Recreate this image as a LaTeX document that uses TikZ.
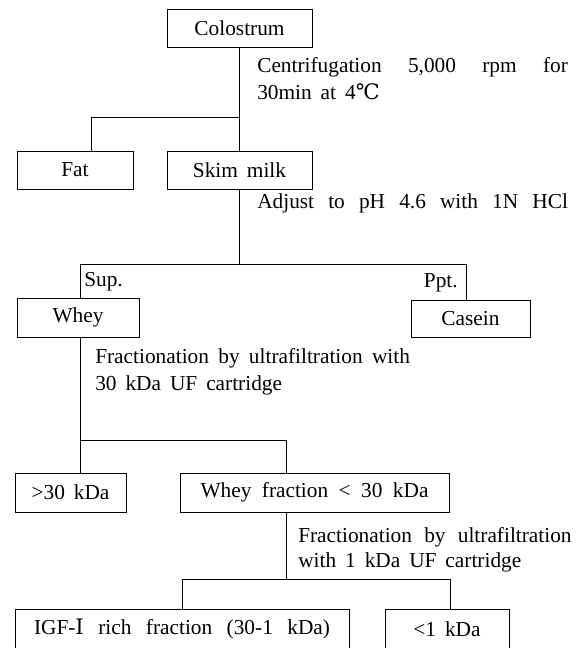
\documentclass[tikz,border=0pt]{standalone}
\usepackage{fontspec}
\setmainfont{Liberation Serif}
\newfontfamily\symfont{DejaVu Serif}
\newcommand\widesp{\spaceskip=0.42em plus 1em minus 0.25em\relax}
\begin{document}
\begin{tikzpicture}[x=0.75pt,y=-0.75pt,
  every node/.style={font=\fontsize{16pt}{19pt}\selectfont, execute at begin node=\widesp},
  box/.style={draw, line width=0.6pt, minimum height=28.5pt, inner sep=0pt},
  lbl/.style={inner sep=0pt, anchor=west},
  conn/.style={line width=0.6pt}]
\useasboundingbox (0,0) rectangle (579,648);
% boxes
\node[box, minimum width=108.75pt] (colo) at (239.5,28) {Colostrum};
\node[box, minimum width=87pt] (fat) at (75,170) {Fat};
\node[box, minimum width=108.75pt] (skim) at (239.5,170) {Skim milk};
\node[box, minimum width=91.5pt, minimum height=29.25pt] (whey) at (78,317.5) {Whey};
\node[box, minimum width=89.25pt, minimum height=27.75pt] (casein) at (470.5,318.5) {Casein};
\node[box, minimum width=83.25pt, minimum height=29.25pt] (gt) at (70.5,492.5) {>30 kDa};
\node[box, minimum width=201.75pt, minimum height=29.25pt] (wfrac) at (314.5,492.5) {\makebox[171pt][s]{Whey fraction < 30 kDa}\hspace{6pt}};
\node[box, minimum width=250.5pt, minimum height=30pt] (igf) at (182,629) {\makebox[222pt][s]{IGF-{\symfont Ⅰ} rich fraction (30-1 kDa)}\hspace{14pt}};
\node[box, minimum width=93pt, minimum height=30pt] (lt) at (447,629) {<1 kDa};
% labels
\node[lbl] (t1a) at (257,67) {\makebox[233pt][s]{Centrifugation 5,000 rpm for}};
\node[lbl] (t1b) at (257,92) {30min at 4{\symfont ℃}};
\node[lbl] (t2) at (257,203) {\makebox[233pt][s]{Adjust to pH 4.6 with 1N HCl}};
\node[lbl] (sup) at (84,282) {Sup.};
\node[inner sep=0pt, anchor=east] (ppt) at (458,283) {Ppt.};
\node[lbl] (t3a) at (95,358) {\makebox[236pt][s]{Fractionation by ultrafiltration with}};
\node[lbl] (t3b) at (95,385) {30 kDa UF cartridge};
\node[lbl] (t4a) at (298,537) {\makebox[205pt][s]{Fractionation by ultrafiltration}};
\node[lbl] (t4b) at (298,562) {with 1 kDa UF cartridge};
% junction coordinates
\coordinate (j1) at (239.5,117);
\coordinate (j1l) at (91,117);
\coordinate (j2) at (239.5,264);
\coordinate (j2l) at (80,264);
\coordinate (j2r) at (466,264);
\coordinate (j3l) at (80,440);
\coordinate (j3r) at (286,440);
\coordinate (j4l) at (182,579);
\coordinate (j4r) at (450,579);
\coordinate (j4t) at (286,579);
% connectors
\draw[conn] (colo.south) -- (skim.north);
\draw[conn] (j1) -- (j1l) -- (j1l |- fat.north);
\draw[conn] (skim.south) -- (j2);
\draw[conn] (j2l |- whey.north) -- (j2l) -- (j2r) -- (j2r |- casein.north);
\draw[conn] (j3l |- whey.south) -- (j3l |- gt.north);
\draw[conn] (j3l) -- (j3r) -- (j3r |- wfrac.north);
\draw[conn] (j4t |- wfrac.south) -- (j4t);
\draw[conn] (j4l |- igf.north) -- (j4l) -- (j4r) -- (j4r |- lt.north);
\end{tikzpicture}
\end{document}
